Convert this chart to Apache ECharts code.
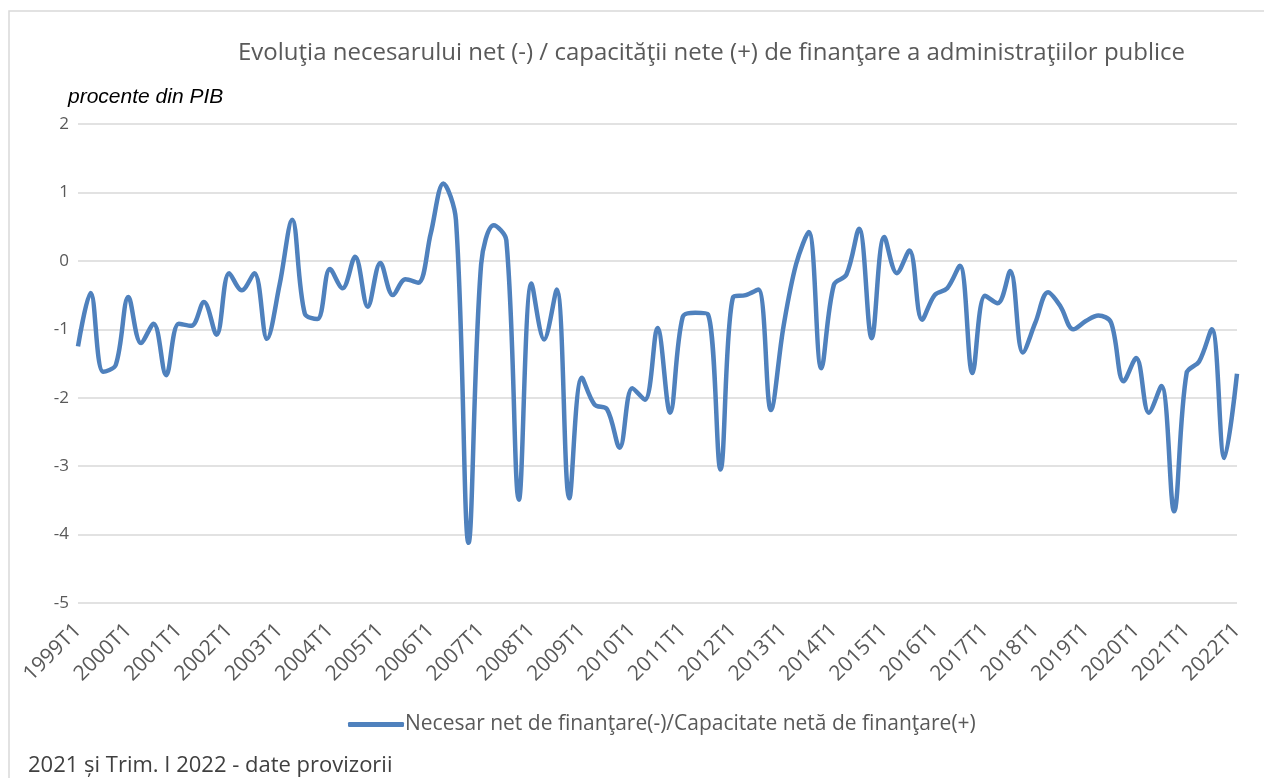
<!DOCTYPE html>
<html>
<head>
<meta charset="utf-8">
<script src="https://cdn.jsdelivr.net/npm/echarts@6/dist/echarts.min.js"></script>
<style>
  html, body { margin: 0; padding: 0; background: #fff; }
  #chart { width: 1264px; height: 778px; }
</style>
</head>
<body>
<div id="chart"></div>
<script>
// trimestre 1999T1 .. 2022T1
const years = [];
for (let y = 1999; y <= 2022; y++) years.push(y);
const quarters = [];
years.forEach(y => {
    for (let q = 1; q <= 4; q++) {
        if (y === 2022 && q > 1) break;
        quarters.push(y + 'T' + q);
    }
});

// procente din PIB
const balance = [
    -1.25, -0.47, -1.62, -1.52, -0.53, -1.2, -0.92, -1.67, -0.92, -0.95,
    -0.6, -1.08, -0.18, -0.43, -0.18, -1.14, -0.35, 0.6, -0.77, -0.85,
    -0.12, -0.4, 0.06, -0.67, -0.03, -0.5, -0.27, -0.32, 0.4, 1.13,
    0.6, -4.12, -0.05, 0.52, 0.3, -3.49, -0.33, -1.15, -0.42, -3.47,
    -1.71, -2.1, -2.17, -2.73, -1.86, -2.03, -0.98, -2.22, -0.82, -0.76,
    -0.78, -3.05, -0.53, -0.5, -0.42, -2.18, -0.96, -0.05, 0.42, -1.57,
    -0.35, -0.2, 0.47, -1.13, 0.35, -0.18, 0.15, -0.86, -0.5, -0.4,
    -0.07, -1.64, -0.51, -0.62, -0.15, -1.34, -0.9, -0.46, -0.67, -1.0,
    -0.88, -0.8, -0.9, -1.76, -1.42, -2.22, -1.83, -3.66, -1.64, -1.47,
    -1.0, -2.88, -1.65
];

const seriesName = 'Necesar net de finanţare(-)/Capacitate netă de finanţare(+)';
const chartTitle = 'Evoluţia necesarului net (-) / capacităţii nete (+) de finanţare a administraţiilor publice';
const footNote = '2021 și Trim. I 2022 - date provizorii';

const chart = echarts.init(document.getElementById('chart'));

const option = {
    animation: false,
    title: {
        text: chartTitle,
        left: 238,
        top: 41,
        padding: 0,
        textStyle: { fontFamily: 'Open Sans', fontSize: 24, fontWeight: 'normal', color: '#595959' }
    },
    legend: {
        data: [seriesName],
        top: 709,
        left: 343,
        icon: 'roundRect',
        itemWidth: 56,
        itemHeight: 5,
        itemGap: 4,
        textStyle: { fontFamily: 'Open Sans', fontSize: 21, color: '#595959', padding: [0, 0, 0, -4] }
    },
    grid: { left: 78, right: 27, top: 124, bottom: 175 },
    xAxis: {
        type: 'category',
        data: quarters,
        boundaryGap: false,
        axisLine: { show: false },
        axisTick: { show: false },
        axisLabel: {
            interval: 3,
            rotate: 45,
            margin: 24,
            fontFamily: 'Open Sans',
            fontSize: 21,
            color: '#595959'
        }
    },
    yAxis: {
        type: 'value',
        min: -5,
        max: 2,
        interval: 1,
        axisLine: { show: false },
        axisTick: { show: false },
        axisLabel: { margin: 9, fontFamily: 'Open Sans', fontSize: 17, color: '#595959' },
        splitLine: { lineStyle: { color: '#d9d9d9', width: 1.5 } }
    },
    series: [{
        name: seriesName,
        type: 'line',
        data: balance,
        smooth: 0.35,
        symbol: 'none',
        color: '#4f81bd',
        lineStyle: { width: 4.5, color: '#4f81bd' }
    }],
    graphic: [
        {
            type: 'rect',
            shape: { x: 9, y: 11, width: 1270, height: 800 },
            style: { fill: 'none', stroke: '#d9d9d9', lineWidth: 1.5 }
        },
        {
            type: 'text',
            left: 68,
            top: 87,
            style: { text: 'procente din PIB', font: 'italic 21px "Liberation Sans"', fill: '#000' }
        },
        {
            type: 'text',
            left: 28,
            top: 755,
            style: { text: footNote, font: '22px "Open Sans"', fill: '#404040' }
        }
    ]
};
chart.setOption(option);
</script>
</body>
</html>
